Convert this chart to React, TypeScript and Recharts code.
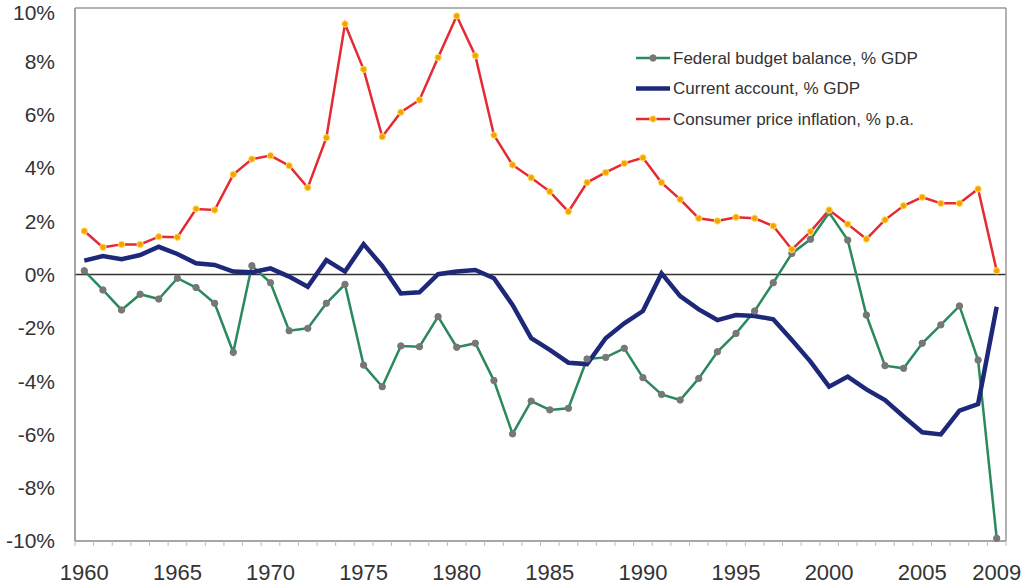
import React from 'react';
import { LineChart, Line, XAxis, YAxis, ReferenceLine, Legend } from 'recharts';

const years = Array.from({ length: 50 }, (_, i) => String(1960 + i));

const budgetBalance = [
  0.14, -0.58, -1.33, -0.74, -0.92, -0.14, -0.49, -1.08, -2.92, 0.33,
  -0.31, -2.11, -2.02, -1.08, -0.37, -3.4, -4.21, -2.68, -2.71, -1.58,
  -2.73, -2.58, -3.98, -5.98, -4.75, -5.08, -5.02, -3.17, -3.11, -2.77,
  -3.87, -4.5, -4.71, -3.9, -2.9, -2.21, -1.37, -0.31, 0.79, 1.32,
  2.32, 1.29, -1.52, -3.42, -3.52, -2.58, -1.89, -1.18, -3.21, -9.9,
];

const currentAccount = [
  0.52, 0.69, 0.57, 0.73, 1.04, 0.77, 0.42, 0.36, 0.11, 0.08,
  0.23, -0.08, -0.46, 0.54, 0.11, 1.14, 0.32, -0.71, -0.67, 0.01,
  0.11, 0.17, -0.14, -1.14, -2.39, -2.83, -3.31, -3.36, -2.39, -1.83,
  -1.37, 0.04, -0.81, -1.31, -1.71, -1.52, -1.56, -1.68, -2.46, -3.27,
  -4.21, -3.83, -4.31, -4.71, -5.33, -5.92, -6.0, -5.11, -4.86, -1.21,
];

const inflation = [
  1.63, 1.02, 1.13, 1.13, 1.42, 1.4, 2.46, 2.42, 3.75, 4.33,
  4.46, 4.08, 3.26, 5.13, 9.4, 7.7, 5.17, 6.09, 6.55, 8.14,
  9.7, 8.21, 5.23, 4.11, 3.63, 3.11, 2.36, 3.45, 3.83, 4.17,
  4.38, 3.45, 2.82, 2.11, 2.01, 2.15, 2.11, 1.82, 0.94, 1.61,
  2.42, 1.89, 1.33, 2.05, 2.58, 2.9, 2.67, 2.67, 3.21, 0.14,
];

const xLabels = ['1960', '1965', '1970', '1975', '1980', '1985', '1990', '1995', '2000', '2005', '2009'];
const yTicks = [-10, -8, -6, -4, -2, 0, 2, 4, 6, 8, 10];

const seriesNames = {
  budget: 'Federal budget balance, % GDP',
  account: 'Current account, % GDP',
  cpi: 'Consumer price inflation, % p.a.',
};

const data = years.map((year, i) => ({
  year,
  budget: budgetBalance[i],
  account: currentAccount[i],
  cpi: inflation[i],
}));

const FONT = '"Liberation Sans", Arial, sans-serif';
const GREEN = '#2b8a5c';
const NAVY = '#1e2878';
const RED = '#e52a33';

const STEP = 930 / 50;

function YearTick(props: any) {
  const { x, y, payload, index } = props;
  const showLabel = xLabels.includes(payload.value);
  return (
    <g>
      <line x1={x - STEP / 2} y1={y - 8} x2={x - STEP / 2} y2={y - 3} stroke="#bbb" />
      {index === years.length - 1 && (
        <line x1={x + STEP / 2} y1={y - 8} x2={x + STEP / 2} y2={y - 3} stroke="#bbb" />
      )}
      {showLabel && (
        <text x={x} y={y + 23} textAnchor="middle" dominantBaseline="central" fontSize={22} fill="#333" fontFamily={FONT}>
          {payload.value}
        </text>
      )}
    </g>
  );
}

function LegendBox() {
  const rows = [
    { name: seriesNames.budget, color: GREEN, width: 2.5, dot: '#777', dotStroke: '#777' },
    { name: seriesNames.account, color: NAVY, width: 4.5, dot: null, dotStroke: null },
    { name: seriesNames.cpi, color: RED, width: 2.5, dot: '#f5a300', dotStroke: '#ffe066' },
  ];
  return (
    <svg width={320} height={100} style={{ overflow: 'visible' }}>
      {rows.map((r, i) => (
        <g key={r.name} transform={`translate(0, ${13 + i * 30.5})`}>
          <line x1={0} y1={0} x2={34} y2={0} stroke={r.color} strokeWidth={r.width} />
          {r.dot && <circle cx={17} cy={0} r={3.2} fill={r.dot} stroke={r.dotStroke} strokeWidth={1} />}
          <text x={37} y={0} dominantBaseline="central" fontSize={17} fill="#333" fontFamily={FONT}>
            {r.name}
          </text>
        </g>
      ))}
    </svg>
  );
}

export default function App() {
  return (
    <div style={{ width: 1022, height: 587, background: '#fff' }}>
      <style>{'body{margin:0}'}</style>
      <LineChart width={1022} height={587} data={data} margin={{ top: 7, right: 15, left: 0, bottom: 0 }}>
        <XAxis
          dataKey="year"
          interval={0}
          padding={{ left: STEP / 2, right: STEP / 2 }}
          height={46}
          tickLine={false}
          axisLine={{ stroke: '#888', strokeWidth: 1.5 }}
          tick={<YearTick />}
        />
        <XAxis xAxisId="top" dataKey="year" orientation="top" height={1} tick={false} tickLine={false} axisLine={{ stroke: '#999', strokeWidth: 1.5 }} />
        <YAxis
          domain={[-10, 10]}
          ticks={yTicks}
          width={75}
          tickFormatter={(v: number) => `${v}%`}
          tickLine={false}
          tickMargin={14}
          axisLine={{ stroke: '#888', strokeWidth: 1.5 }}
          tick={{ fontSize: 21, fill: '#333', fontFamily: FONT }}
        />
        <YAxis yAxisId="right" orientation="right" width={1} domain={[-10, 10]} ticks={yTicks} tick={false} tickLine={false} axisLine={{ stroke: '#999', strokeWidth: 1.5 }} />
        <ReferenceLine y={0} stroke="#333" strokeWidth={1.5} />
        <Legend
          layout="horizontal"
          verticalAlign="middle"
          align="center"
          content={() => <LegendBox />}
          wrapperStyle={{ top: 45, left: 636, width: 320, height: 100 }}
        />
        <Line
          dataKey="budget"
          name={seriesNames.budget}
          stroke={GREEN}
          strokeWidth={2.5}
          dot={{ r: 3.2, fill: '#777', stroke: '#777', strokeWidth: 1 }}
          isAnimationActive={false}
        />
        <Line
          dataKey="account"
          name={seriesNames.account}
          stroke={NAVY}
          strokeWidth={4.5}
          dot={false}
          isAnimationActive={false}
        />
        <Line
          dataKey="cpi"
          name={seriesNames.cpi}
          stroke={RED}
          strokeWidth={2.5}
          dot={{ r: 3.2, fill: '#f5a300', stroke: '#ffe066', strokeWidth: 1 }}
          isAnimationActive={false}
        />
      </LineChart>
    </div>
  );
}
